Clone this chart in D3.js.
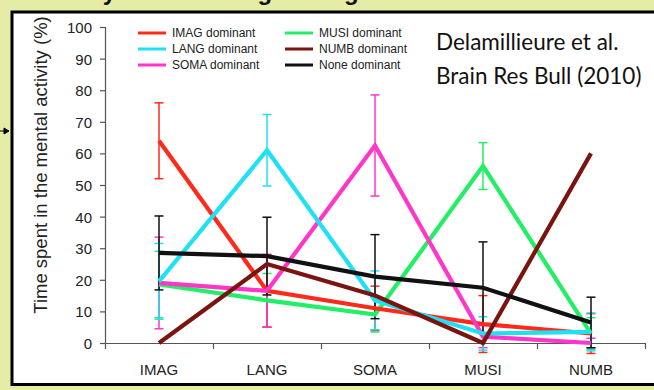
<!DOCTYPE html>
<html>
<head>
<meta charset="utf-8">
<script src="https://cdn.jsdelivr.net/npm/d3@7/dist/d3.min.js"></script>
<style>
  html, body { margin: 0; padding: 0; background: #e4eca6; overflow: hidden; }
  svg { display: block; }
  .tick text { font-family: "Liberation Sans", Arial, sans-serif; fill: #222; }
</style>
</head>
<body>
<svg id="chart" width="654" height="390"></svg>
<script>
// ── Data ─────────────────────────────────────────────────────────
const categories = ["IMAG", "LANG", "SOMA", "MUSI", "NUMB"];
const yTicks     = [0, 10, 20, 30, 40, 50, 60, 70, 80, 90, 100];

const seriesNames = ["IMAG dominant", "LANG dominant", "SOMA dominant",
                     "MUSI dominant", "NUMB dominant", "None dominant"];

// mean % per category, then the error (+/-) drawn as bars
const imagMean = [64, 16.5, 11, 6, 3];
const imagErr  = [12, 11.5, 7, 9, 6.3];
const langMean = [19.5, 61, 13.5, 3, 3.5];
const langErr  = [12, 11.3, 9.3, 5.3, 6];
const somaMean = [19, 16.5, 62.5, 2, 0];
const somaErr  = [14.5, 11.5, 16, 3.5, 1.5];
const musiMean = [18.5, 13.5, 9, 56, 3];
const musiErr  = [10.5, 8.5, 5.5, 7.4, 5];
const numbMean = [0, 25, 15, 0, 60];
const numbErr  = [0, 0, 0, 0, 0];
const noneMean = [28.5, 27.5, 21, 17.5, 6.5];
const noneErr  = [11.7, 12.3, 13.3, 14.5, 8];

const colors = {
  "IMAG dominant": "#ff2a1a",
  "LANG dominant": "#1fe1f4",
  "SOMA dominant": "#ff36c8",
  "MUSI dominant": "#23ef66",
  "NUMB dominant": "#7a1410",
  "None dominant": "#111111"
};

const series = [
  { name: "IMAG dominant", mean: imagMean, err: imagErr },
  { name: "LANG dominant", mean: langMean, err: langErr },
  { name: "SOMA dominant", mean: somaMean, err: somaErr },
  { name: "MUSI dominant", mean: musiMean, err: musiErr },
  { name: "NUMB dominant", mean: numbMean, err: numbErr },
  { name: "None dominant", mean: noneMean, err: noneErr }
];
// drawing order (last on top)
const drawOrder = ["MUSI dominant", "IMAG dominant", "SOMA dominant",
                   "LANG dominant", "NUMB dominant", "None dominant"];

// ── Frame ────────────────────────────────────────────────────────
const svg = d3.select("#chart");

// slide title, only its descenders show above the frame
svg.append("text")
  .attr("x", 20).attr("y", 0)
  .attr("font-family", "Liberation Sans, Arial, sans-serif")
  .attr("font-weight", "bold").attr("font-size", 24)
  .attr("fill", "#111")
  .text("Mentally active during resting state");

svg.append("rect")
  .attr("x", 12).attr("y", 12)
  .attr("width", 660).attr("height", 372.5)
  .attr("fill", "#fff").attr("stroke", "#000").attr("stroke-width", 3);

// little arrow poking into the frame on the left
svg.append("path")
  .attr("d", "M0,131 L5,131 M4,128 L9,131 L4,134 Z")
  .attr("stroke", "#000").attr("stroke-width", 1).attr("fill", "#000");

// ── Scales ───────────────────────────────────────────────────────
const x     = d3.scaleBand().domain(categories).range([105, 645]);
const xEdge = d3.scaleLinear().domain([0, categories.length]).range([105, 645]);
const y     = d3.scaleLinear().domain([0, 100]).range([343, 27]);
const cx    = c => x(c) + x.bandwidth() / 2;

// ── Axes ─────────────────────────────────────────────────────────
const gy = svg.append("g")
  .attr("transform", "translate(105,0)")
  .call(d3.axisLeft(y).tickValues(yTicks).tickSize(5).tickSizeOuter(5).tickPadding(8));
gy.selectAll("text").attr("font-size", 15).attr("dy", "0.36em");

const gx = svg.append("g")
  .attr("transform", "translate(0,343)")
  .call(d3.axisBottom(xEdge).tickValues(d3.range(0, categories.length + 1))
    .tickFormat("").tickSize(6).tickSizeOuter(0));

const gl = svg.append("g")
  .attr("transform", "translate(0,343)")
  .call(d3.axisBottom(x).tickSize(0).tickPadding(21));
gl.select(".domain").remove();
gl.selectAll("text").attr("font-size", 15);

svg.selectAll(".domain, .tick line").attr("stroke", "#555").attr("stroke-width", 1.2);

svg.append("text")
  .attr("transform", "translate(47,165) rotate(-90)")
  .attr("text-anchor", "middle")
  .attr("font-family", "Liberation Sans, Arial, sans-serif")
  .attr("font-size", 18.5).attr("fill", "#222")
  .text("Time spent in the mental activity (%)");

// ── Error bars ───────────────────────────────────────────────────
const bars = [];
drawOrder.forEach(n => {
  const s = series.find(d => d.name === n);
  categories.forEach((c, i) => {
    if (s.err[i] > 0) bars.push({ name: n, c, lo: s.mean[i] - s.err[i], hi: s.mean[i] + s.err[i] });
  });
});

const eb = svg.append("g").selectAll("g").data(bars).join("g")
  .attr("stroke", d => colors[d.name]).attr("stroke-width", 1.5);
eb.append("line")
  .attr("x1", d => cx(d.c)).attr("x2", d => cx(d.c))
  .attr("y1", d => y(d.lo)).attr("y2", d => y(d.hi));
eb.append("line")
  .attr("x1", d => cx(d.c) - 4.5).attr("x2", d => cx(d.c) + 4.5)
  .attr("y1", d => y(d.hi)).attr("y2", d => y(d.hi));
eb.append("line")
  .attr("x1", d => cx(d.c) - 4.5).attr("x2", d => cx(d.c) + 4.5)
  .attr("y1", d => y(d.lo)).attr("y2", d => y(d.lo));

// ── Lines ────────────────────────────────────────────────────────
const line = d3.line().x(d => cx(d.c)).y(d => y(d.v));

svg.append("g").selectAll("path")
  .data(drawOrder.map(n => series.find(d => d.name === n)))
  .join("path")
  .attr("fill", "none")
  .attr("stroke", d => colors[d.name])
  .attr("stroke-width", 4.2)
  .attr("stroke-linejoin", "miter")
  .attr("d", d => line(categories.map((c, i) => ({ c, v: d.mean[i] }))));

// ── Legend ───────────────────────────────────────────────────────
const legend = svg.append("g").selectAll("g")
  .data(seriesNames).join("g")
  .attr("transform", (d, i) => `translate(${i < 3 ? 138 : 285},${33 + (i % 3) * 16})`);
legend.append("line")
  .attr("x1", 0).attr("x2", 28)
  .attr("stroke", d => colors[d]).attr("stroke-width", 3);
legend.append("text")
  .attr("x", 34).attr("dy", "0.35em")
  .attr("font-family", "Liberation Sans, Arial, sans-serif")
  .attr("font-size", 12).attr("fill", "#222")
  .text(d => d);

// ── Citation ─────────────────────────────────────────────────────
const cite = svg.append("text")
  .attr("font-family", "Lato, 'Open Sans', sans-serif")
  .attr("font-size", 22.5).attr("fill", "#111");
cite.append("tspan").attr("x", 436).attr("y", 50).text("Delamillieure et al.");
cite.append("tspan").attr("x", 436).attr("y", 84).text("Brain Res Bull (2010)");
</script>
</body>
</html>
